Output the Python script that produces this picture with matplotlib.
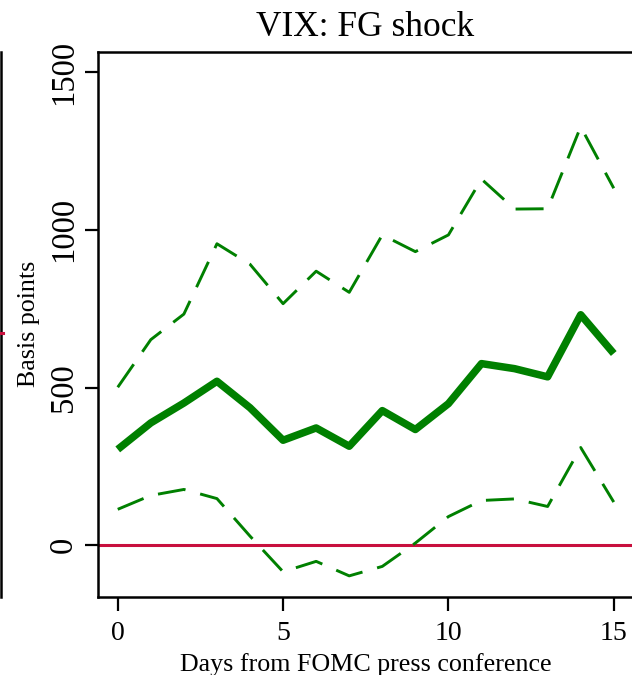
import numpy as np
import matplotlib

matplotlib.use("Agg")
import matplotlib.pyplot as plt
from matplotlib.lines import Line2D

# VIX response to forward guidance shock, basis points
days = np.arange(16)
irf = [304, 388, 451, 520, 436, 333, 372, 314, 427, 367, 449, 576, 560, 534, 731, 608]
upper = [501, 652, 733, 956, 891, 766, 869, 802, 984, 931, 984, 1161, 1066, 1067, 1327, 1132]
lower = [114, 158, 177, 148, 29, -84, -51, -97, -67, 7, 91, 142, 147, 123, 310, 137]

xticks = [0, 5, 10, 15]
yticks = [0, 500, 1000, 1500]

W, H = 632, 675
plt.rcParams["font.family"] = ["Liberation Serif", "DejaVu Serif"]

fig = plt.figure(figsize=(W / 100, H / 100), dpi=100)
ax = fig.add_axes([97.9 / W, 78 / H, 535.7 / W, 545 / H])

green = "#008000"
ax.axhline(0, color="#C8103E", lw=2.2, zorder=1)
ax.plot(days, irf, color=green, lw=5.4, solid_joinstyle="round",
        solid_capstyle="butt", zorder=3)
for band in (upper, lower):
    ax.plot(days, band, color=green, lw=2.1, linestyle=(0, (9.6, 5.2)),
            dash_capstyle="butt", zorder=2)

ax.set_xlim(-0.6, 15.6)
ax.set_ylim(-164, 1564)
ax.set_xticks(xticks)
ax.set_xticklabels([str(t) for t in xticks], fontsize=20)
ax.set_yticks(yticks)
ax.set_yticklabels([str(t) for t in yticks], fontsize=23.5, rotation=90, va="center")
ax.tick_params(axis="x", direction="out", length=10, width=1.6, pad=7)
ax.tick_params(axis="y", direction="out", length=9.5, width=1.6, pad=4)
for side in ("left", "bottom", "top"):
    ax.spines[side].set_linewidth(1.8)
ax.spines["right"].set_visible(False)

fig.text(365 / W, (H - 36) / H, "VIX: FG shock", fontsize=25.5,
         ha="center", va="baseline")
fig.text(366 / W, (H - 671) / H, "Days from FOMC press conference",
         fontsize=18.7, ha="center", va="baseline")
fig.text(35 / W, (H - 324) / H, "Basis points", fontsize=18.7, rotation=90,
         rotation_mode="anchor", ha="center", va="baseline")

# edge of the neighbouring panel
fig.add_artist(Line2D([1 / W, 1 / W], [78 / H, 623 / H], color="black", lw=1.8))
fig.add_artist(Line2D([0, 3 / W], [(H - 333) / H, (H - 333) / H],
                      color="#C8103E", lw=2.2))

fig.savefig("out.png", dpi=100)
